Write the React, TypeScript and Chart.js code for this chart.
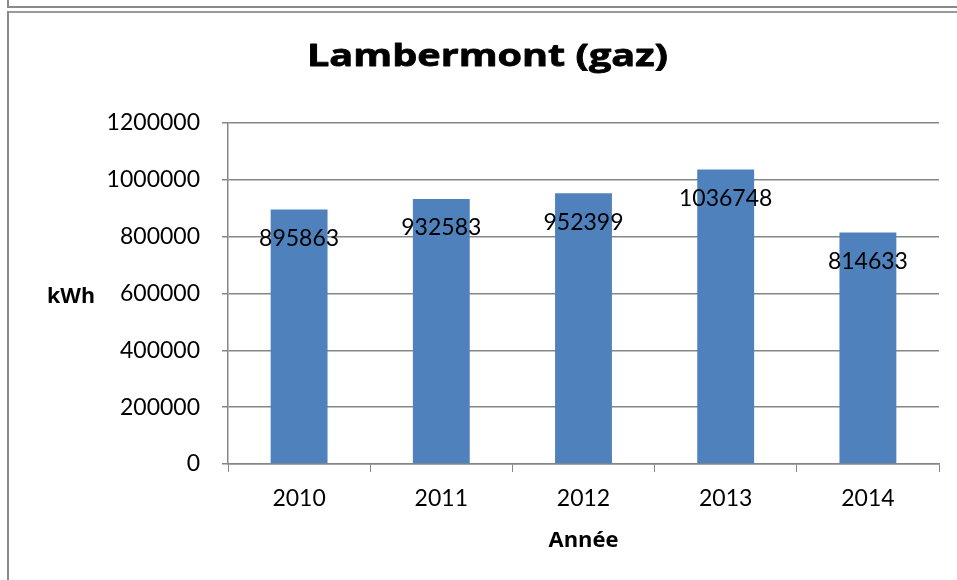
import React, { useEffect, useRef } from "react";
import { Chart, registerables } from "chart.js";

Chart.register(...registerables);

const categories = ["2010", "2011", "2012", "2013", "2014"];
const values = [895863, 932583, 952399, 1036748, 814633];
const yTicks = { min: 0, max: 1200000, step: 200000 };
const titleText = "Lambermont (gaz)";
const yTitle = "kWh";
const xTitle = "Année";

const FONT = "Lato, 'Open Sans', sans-serif";
const BOLD_FONT = "'Open Sans', Lato, sans-serif";
const GRID = "#868686";

function drawFit(ctx: any, text: string, font: string, cx: number, baseline: number, width: number, stroke = 0) {
  ctx.save();
  ctx.font = font;
  ctx.textAlign = "center";
  ctx.textBaseline = "alphabetic";
  const w = ctx.measureText(text).width;
  const sx = w > 0 ? width / w : 1;
  ctx.translate(cx, baseline);
  ctx.scale(sx, 1);
  ctx.fillText(text, 0, 0);
  if (stroke > 0) {
    ctx.strokeStyle = ctx.fillStyle;
    ctx.lineWidth = stroke;
    ctx.lineJoin = "round";
    ctx.strokeText(text, 0, 0);
  }
  ctx.restore();
}

const overlayPlugin = {
  id: "overlay",
  afterDatasetsDraw(chart: any) {
    const ctx = chart.ctx;
    const meta = chart.getDatasetMeta(0);
    ctx.save();
    ctx.fillStyle = "#000";
    ctx.font = `23px ${FONT}`;
    ctx.textAlign = "center";
    ctx.textBaseline = "middle";
    meta.data.forEach((bar: any, i: number) => {
      ctx.fillText(String(values[i]), bar.x, bar.y + 29);
    });
    ctx.restore();
  },
  afterDraw(chart: any) {
    const ctx = chart.ctx;
    const area = chart.chartArea;
    ctx.fillStyle = "#000";
    drawFit(ctx, titleText, `bold 31px ${BOLD_FONT}`, 487.5, 66, 361, 0.8);
    drawFit(ctx, yTitle, `bold 21px ${BOLD_FONT}`, 71, 303, 48);
    drawFit(ctx, xTitle, `bold 21px ${BOLD_FONT}`, (area.left + area.right) / 2, 547, 70);
  },
};

export default function App() {
  const ref = useRef<HTMLCanvasElement>(null);
  useEffect(() => {
    if (!ref.current) return;
    const chart = new Chart(ref.current, {
      type: "bar",
      data: {
        labels: categories,
        datasets: [
          {
            data: values,
            backgroundColor: "#4F81BD",
            barPercentage: 0.4,
            categoryPercentage: 1,
          },
        ],
      },
      options: {
        animation: false,
        responsive: false,
        maintainAspectRatio: false,
        layout: { padding: { left: 0, top: 123, right: 18, bottom: 0 } },
        plugins: {
          legend: { display: false },
          title: { display: false },
          tooltip: { enabled: false },
        },
        scales: {
          x: {
            afterFit: (s: any) => {
              s.height = 116;
            },
            grid: {
              drawOnChartArea: false,
              drawTicks: true,
              tickLength: 8,
              color: GRID,
              offset: true,
            },
            border: { display: true, color: GRID, width: 1.5 },
            ticks: {
              color: "#000",
              font: { family: FONT, size: 23 },
              padding: 13,
            },
          },
          y: {
            min: yTicks.min,
            max: yTicks.max,
            afterFit: (s: any) => {
              s.width = 228;
            },
            grid: {
              color: GRID,
              lineWidth: 1.5,
              drawTicks: true,
              tickLength: 6,
            },
            border: { display: true, color: GRID, width: 1.5 },
            ticks: {
              stepSize: yTicks.step,
              color: "#000",
              font: { family: FONT, size: 23 },
              padding: 22,
              callback: (v: any) => String(v),
            },
          },
        },
      },
      plugins: [overlayPlugin],
    });
    return () => chart.destroy();
  }, []);

  const line = (style: React.CSSProperties) => (
    <div style={{ position: "absolute", background: "#8a8a8a", ...style }} />
  );

  return (
    <div
      style={{
        position: "fixed",
        left: 0,
        top: 0,
        width: 957,
        height: 580,
        background: "#fff",
        overflow: "hidden",
      }}
    >
      <canvas
        ref={ref}
        width={957}
        height={580}
        style={{ position: "absolute", left: 0, top: 0, width: 957, height: 580 }}
      />
      {line({ left: 7, top: 0, width: 2, height: 8 })}
      {line({ left: 7, top: 6, width: 950, height: 2 })}
      {line({ left: 7, top: 11, width: 950, height: 2, background: "#999" })}
      {line({ left: 7, top: 11, width: 2, height: 569 })}
    </div>
  );
}
